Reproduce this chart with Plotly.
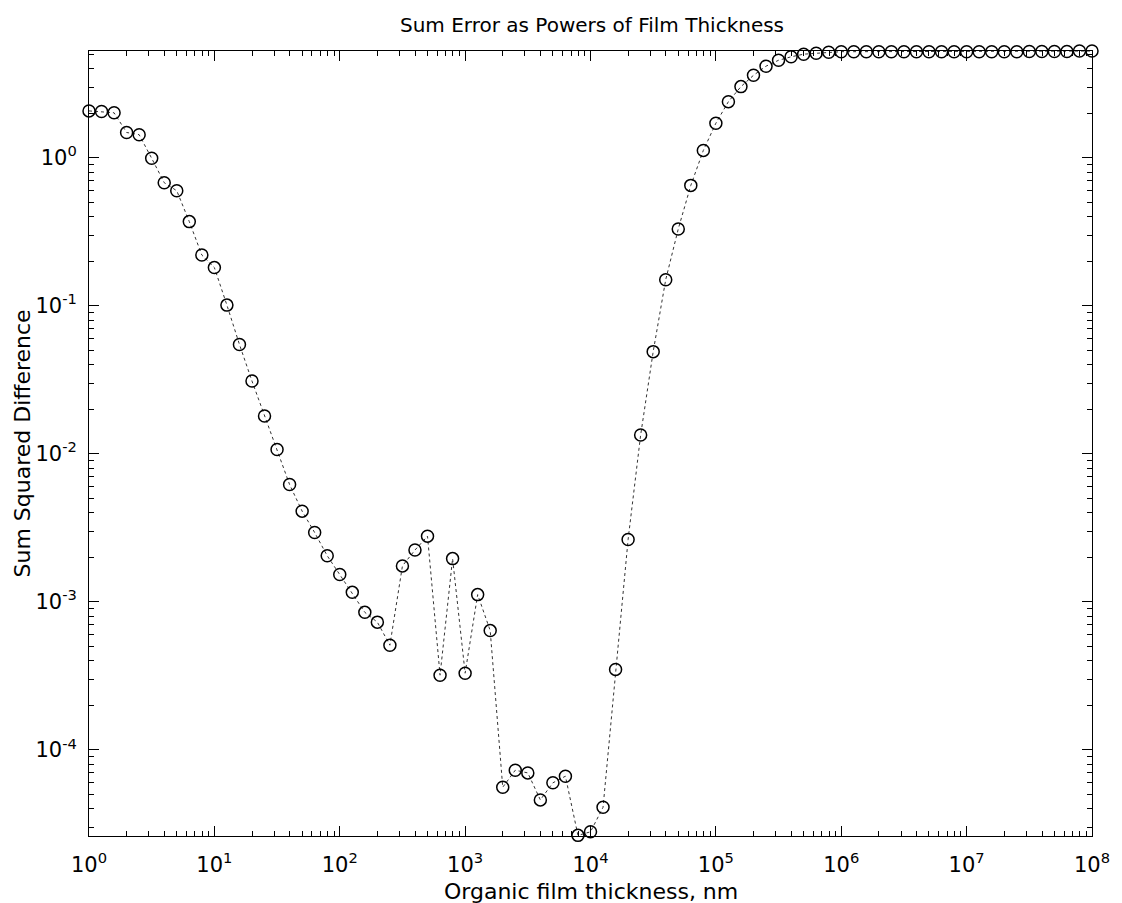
import plotly.graph_objects as go

# Film thickness exponents: thickness = 10**(k/10), k = 0..80 (nm)
exponent_tenths = list(range(0, 81))
thickness_nm = [10 ** (k / 10) for k in exponent_tenths]

# Sum squared difference
sum_sq_diff = [
    2.07, 2.05, 2.01, 1.48, 1.43, 0.99, 0.678, 0.598, 0.37, 0.22,
    0.181, 0.101, 0.0548, 0.031, 0.018, 0.0107, 0.0062, 0.0041, 0.00294, 0.00205,
    0.00153, 0.00116, 0.00085, 0.00073, 0.00051, 0.00175, 0.00224, 0.00278, 0.00032, 0.00196,
    0.00033, 0.00112, 0.00064, 5.6e-5, 7.3e-5, 7.0e-5, 4.6e-5, 6.0e-5, 6.65e-5, 2.65e-5,
    2.8e-5, 4.1e-5, 0.00035, 0.00264, 0.0134, 0.049, 0.15, 0.33, 0.65, 1.12,
    1.71, 2.39, 3.02, 3.6, 4.15, 4.55, 4.8, 5.0, 5.07, 5.15,
    5.2, 5.2, 5.2, 5.2, 5.2, 5.2, 5.2, 5.2, 5.2, 5.2,
    5.2, 5.2, 5.2, 5.2, 5.2, 5.22, 5.22, 5.22, 5.22, 5.25, 5.25,
]

x_tick_vals = [1, 10, 100, 1e3, 1e4, 1e5, 1e6, 1e7, 1e8]
x_tick_text = ["10<sup>0</sup>", "10<sup>1</sup>", "10<sup>2</sup>", "10<sup>3</sup>",
               "10<sup>4</sup>", "10<sup>5</sup>", "10<sup>6</sup>", "10<sup>7</sup>",
               "10<sup>8</sup>"]
y_tick_vals = [1e-4, 1e-3, 1e-2, 1e-1, 1]
y_tick_text = ["10<sup>-4</sup>", "10<sup>-3</sup>", "10<sup>-2</sup>", "10<sup>-1</sup>",
               "10<sup>0</sup>"]

title_text = "Sum Error as Powers of Film Thickness"
x_label = "Organic film thickness, nm"
y_label = "Sum Squared Difference"

x_minor = [m * 10 ** d for d in range(0, 8) for m in range(2, 10)]
y_minor = [m * 10 ** d for d in range(-5, 1) for m in range(2, 10)]

FONT = "DejaVu Sans, Liberation Sans, Arial, sans-serif"
W, H = 1122, 903
ML, MR, MT, MB = 89, 20, 51, 67

fig = go.Figure()
fig.add_trace(go.Scatter(
    x=thickness_nm, y=sum_sq_diff,
    mode="lines+markers",
    line=dict(color="#333333", width=1, dash="dot"),
    marker=dict(symbol="circle-open", size=12, color="black",
                line=dict(color="black", width=1.5)),
    cliponaxis=False,
    showlegend=False,
))

axis_common = dict(
    showline=True, linecolor="black", linewidth=1, mirror="allticks",
    ticks="inside", ticklen=10, tickwidth=1, tickcolor="black",
    showgrid=False, zeroline=False,
    tickfont=dict(family=FONT, size=21, color="black"),
)

fig.update_layout(
    width=W, height=H,
    margin=dict(l=ML, r=MR, t=MT, b=MB),
    paper_bgcolor="white", plot_bgcolor="white",
    title=dict(text=title_text, x=592 / W, xanchor="center", y=1 - 25 / H, yanchor="middle",
               font=dict(family=FONT, size=20, color="black")),
    xaxis=dict(
        type="log", range=[0, 8],
        tickmode="array", tickvals=x_tick_vals, ticktext=x_tick_text,
        ticklabelstandoff=10,
        minor=dict(ticks="inside", ticklen=5, tickcolor="black", tickvals=x_minor, showgrid=False),
        **axis_common,
    ),
    yaxis=dict(
        type="log", range=[-4.581, 0.7205],
        tickmode="array", tickvals=y_tick_vals, ticktext=y_tick_text,
        ticklabelstandoff=7,
        minor=dict(ticks="inside", ticklen=5, tickcolor="black", tickvals=y_minor, showgrid=False),
        **axis_common,
    ),
    annotations=[
        dict(text=x_label, xref="paper", yref="paper", x=0.5, y=0,
             xanchor="center", yanchor="middle", yshift=-55, showarrow=False,
             font=dict(family=FONT, size=22, color="black")),
        dict(text=y_label, xref="paper", yref="paper", x=0, y=0.5,
             xanchor="center", yanchor="middle", xshift=-67, textangle=-90, showarrow=False,
             font=dict(family=FONT, size=22, color="black")),
    ],
)

fig.write_html("out.html")
